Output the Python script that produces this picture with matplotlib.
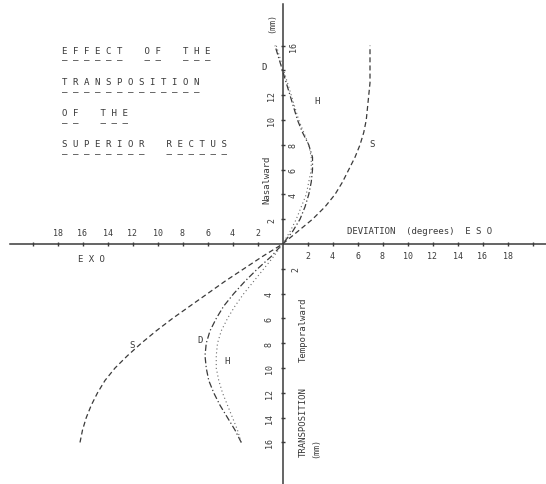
import matplotlib.pyplot as plt

# transposition of the superior rectus (mm), temporalward negative, nasalward positive
transposition = [-16, -15, -14, -13, -12, -11, -10, -9, -8, -7, -6, -5, -4, -3, -2, -1, 0,
                 1, 2, 3, 4, 5, 6, 7, 8, 9, 10, 11, 12, 13, 14, 15, 16]

# deviation (degrees), exo negative, eso positive
dev_S = [-16.2, -16.0, -15.7, -15.3, -14.8, -14.2, -13.4, -12.4, -11.3, -10.1, -8.8, -7.4,
         -6.0, -4.6, -3.1, -1.6, 0.0,
         1.2, 2.4, 3.4, 4.2, 4.8, 5.3, 5.8, 6.2, 6.5, 6.7, 6.8, 6.9, 7.0, 7.0, 7.0, 7.0]
dev_D = [-3.3, -3.8, -4.4, -5.0, -5.5, -5.9, -6.1, -6.2, -6.1, -5.8, -5.3, -4.7,
         -3.9, -3.0, -2.0, -0.9, 0.0,
         0.8, 1.4, 1.8, 2.1, 2.3, 2.4, 2.4, 2.1, 1.6, 1.2, 0.9, 0.6, 0.3, 0.0, -0.3, -0.6]
dev_H = [-3.3, -3.6, -4.0, -4.4, -4.8, -5.1, -5.3, -5.3, -5.2, -4.9, -4.4, -3.8,
         -3.1, -2.3, -1.5, -0.7, 0.0,
         0.6, 1.1, 1.5, 1.9, 2.1, 2.3, 2.3, 2.1, 1.7, 1.3, 1.0, 0.7, 0.4, 0.1, -0.2, -0.5]

xticks_left = [-2, -4, -6, -8, -10, -12, -14, -16, -18, -20]
xticks_right = [2, 4, 6, 8, 10, 12, 14, 16, 18, 20]
xlabels_left = ["2", "4", "6", "8", "10", "12", "14", "16", "18", ""]
xlabels_right = ["2", "4", "6", "8", "10", "12", "14", "16", "18", ""]

yticks_up = [2, 4, 6, 8, 10, 12, 14, 16]
ylabels_up = ["2", "4", "6", "8", "10", "12", "", "16"]
yside_up = [-1, 1, 1, 1, -1, -1, 1, 1]
yticks_down = [-2, -4, -6, -8, -10, -12, -14, -16]
ylabels_down = ["2", "4", "6", "8", "10", "12", "14", "16"]
yside_down = [1, -1, -1, -1, -1, -1, -1, -1]

title_lines = ["E F F E C T    O F    T H E",
               "T R A N S P O S I T I O N",
               "O F    T H E",
               "S U P E R I O R    R E C T U S"]

ink = "#3a3a3a"
mono = "DejaVu Sans Mono"

fig = plt.figure(figsize=(5.46, 4.85), dpi=100)
ax = fig.add_axes([0, 0, 1, 1])
ax.set_xlim(-22.6, 21.08)
ax.set_ylim(-19.35, 19.76)
ax.axis("off")

# axes through the origin
ax.axhline(0, xmin=10 / 546, xmax=1, color=ink, lw=1.1)
ax.axvline(0, ymin=0, ymax=1 - 5 / 485, color=ink, lw=1.1)

ax.plot(xticks_left + xticks_right, [0] * 20, "|", color=ink, ms=3.5, mew=1)
ax.plot([0] * 16, yticks_up + yticks_down, "_", color=ink, ms=3.5, mew=1)

for x, lab in zip(xticks_left, xlabels_left):
    ax.text(x, 0.97, lab, ha="center", va="center", fontsize=6, family=mono, color=ink)
for x, lab in zip(xticks_right, xlabels_right):
    ax.text(x, -0.9, lab, ha="center", va="center", fontsize=6, family=mono, color=ink)
for y, lab, side in zip(yticks_up, ylabels_up, yside_up):
    ax.text(0.85 * side, y, lab, ha="center", va="center", rotation=90,
            fontsize=6, family=mono, color=ink)
for y, lab, side in zip(yticks_down, ylabels_down, yside_down):
    ax.text(1.05 * side, y, lab, ha="center", va="center", rotation=90,
            fontsize=6, family=mono, color=ink)

# curves
ax.plot(dev_S, transposition, color=ink, lw=0.9, ls=(0, (4, 2.5)))
ax.plot(dev_D, transposition, color=ink, lw=0.9, ls=(0, (5, 2, 1, 2)))
ax.plot(dev_H, transposition, color="#6a6a6a", lw=0.8, ls=(0, (1, 2.5)))

curve_labels = [("S", 7.2, 8.1), ("H", 2.8, 11.6), ("D", -1.5, 14.3),
                ("S", -12.0, -8.1), ("D", -6.6, -7.7), ("H", -4.4, -9.4)]
for lab, x, y in curve_labels:
    ax.text(x, y, lab, ha="center", va="center", fontsize=6.5, family=mono, color=ink)

# axis titles
ax.text(5.16, 1.13, "DEVIATION  (degrees)  E S O", ha="left", va="center",
        fontsize=6.5, family=mono, color=ink)
ax.text(-16.4, -1.2, "E X O", ha="left", va="center", fontsize=6.5, family=mono, color=ink)
ax.text(-0.84, 17.9, "(mm)", ha="center", va="center", rotation=90,
        fontsize=6, family=mono, color=ink)
ax.text(-1.24, 5.3, "Nasalward", ha="center", va="center", rotation=90,
        fontsize=6.5, family=mono, color=ink)
ax.text(1.64, -6.85, "Temporalward", ha="center", va="center", rotation=90,
        fontsize=6.5, family=mono, color=ink)
ax.text(1.64, -14.3, "TRANSPOSITION", ha="center", va="center", rotation=90,
        fontsize=6.5, family=mono, color=ink)
ax.text(2.68, -16.4, "(mm)", ha="center", va="center", rotation=90,
        fontsize=6, family=mono, color=ink)

# underlined title block: each line typed with underscores beneath it
for i, line in enumerate(title_lines):
    y = 16.0 - i * 2.52
    under = "".join("_" if c != " " else " " for c in line)
    ax.text(-17.6, y, line + "\n" + under, ha="left", va="top", linespacing=0.42,
            fontsize=6.6, family=mono, color=ink)

fig.savefig("out.png", dpi=100)
